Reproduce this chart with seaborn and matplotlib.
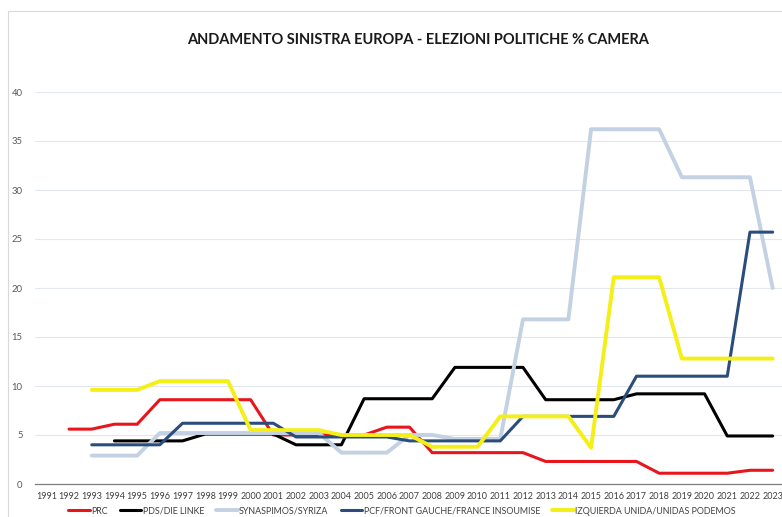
import numpy as np
import pandas as pd
import matplotlib
matplotlib.use("Agg")
import matplotlib.pyplot as plt
import seaborn as sns
from matplotlib.patches import Rectangle

nan = np.nan
anni = list(range(1991, 2024))

# percentuali (NaN = serie non ancora iniziata)
prc = [nan, 5.6, 5.6, 6.1, 6.1, 8.6, 8.6, 8.6, 8.6, 8.6, 5.0, 5.0, 5.0, 5.0, 5.0, 5.8, 5.8,
       3.2, 3.2, 3.2, 3.2, 3.2, 2.3, 2.3, 2.3, 2.3, 2.3, 1.1, 1.1, 1.1, 1.1, 1.4, 1.4]
pds_linke = [nan, nan, nan, 4.4, 4.4, 4.4, 4.4, 5.1, 5.1, 5.1, 5.1, 4.0, 4.0, 4.0, 8.7, 8.7, 8.7,
             8.7, 11.9, 11.9, 11.9, 11.9, 8.6, 8.6, 8.6, 8.6, 9.2, 9.2, 9.2, 9.2, 4.9, 4.9, 4.9]
syriza = [nan, nan, 2.9, 2.9, 2.9, 5.2, 5.2, 5.2, 5.2, 5.2, 5.2, 5.2, 5.2, 3.2, 3.2, 3.2, 5.0,
          5.0, 4.6, 4.6, 4.6, 16.8, 16.8, 16.8, 36.2, 36.2, 36.2, 36.2, 31.3, 31.3, 31.3, 31.3, 20.0]
pcf_fi = [nan, nan, 4.0, 4.0, 4.0, 4.0, 6.2, 6.2, 6.2, 6.2, 6.2, 4.8, 4.8, 4.8, 4.8, 4.8, 4.4,
          4.4, 4.4, 4.4, 4.4, 6.9, 6.9, 6.9, 6.9, 6.9, 11.0, 11.0, 11.0, 11.0, 11.0, 25.7, 25.7]
iu_podemos = [nan, nan, 9.6, 9.6, 9.6, 10.5, 10.5, 10.5, 10.5, 5.5, 5.5, 5.5, 5.5, 5.0, 5.0, 5.0, 5.0,
              3.8, 3.8, 3.8, 6.9, 6.9, 6.9, 6.9, 3.7, 21.1, 21.1, 21.1, 12.8, 12.8, 12.8, 12.8, 12.8]

serie = [
    ("PRC", prc, "#e8161c", 2.2),
    ("PDS/DIE LINKE", pds_linke, "#000000", 2.2),
    ("SYNASPIMOS/SYRIZA", syriza, "#c3d1e2", 2.8),
    ("PCF/FRONT GAUCHE/FRANCE INSOUMISE", pcf_fi, "#2a4d7c", 2.2),
    ("IZQUIERDA UNIDA/UNIDAS PODEMOS", iu_podemos, "#f4ef17", 2.8),
]

sns.set_style("white")
plt.rcParams["font.family"] = ["Lato", "DejaVu Sans"]

fig = plt.figure(figsize=(7.82, 5.17), dpi=100)
ax = fig.add_axes([35 / 782, 33 / 517, 749 / 782, 392 / 517])

for nome, valori, colore, lw in serie:
    df = pd.DataFrame({"anno": anni, "val": valori}).dropna()
    sns.lineplot(data=df, x="anno", y="val", color=colore, linewidth=lw,
                 label=nome, ax=ax, legend=False)

ax.set_xlim(1990.5, 2023.5)
ax.set_ylim(0, 40)
ax.set_yticks(range(0, 41, 5))
ax.set_xticks(anni)
ax.set_xticks(np.arange(1990.5, 2024, 1), minor=True)
ax.set_xlabel("")
ax.set_ylabel("")
ax.grid(axis="y", color="#e1e7ed", linewidth=0.8)
ax.grid(axis="x", visible=False)
for s in ["top", "right", "left"]:
    ax.spines[s].set_visible(False)
ax.spines["bottom"].set_color("#7f7f7f")
ax.spines["bottom"].set_linewidth(0.9)
ax.tick_params(axis="x", which="major", length=0, labelsize=6.5, colors="#404040", pad=6)
ax.tick_params(axis="x", which="minor", length=3, width=0.8, color="#7f7f7f", direction="out")
ax.tick_params(axis="y", length=0, labelsize=6.8, colors="#595959", pad=9)
ax.set_zorder(1)

fig.text(0.534, 0.922, "ANDAMENTO SINISTRA EUROPA - ELEZIONI POLITICHE % CAMERA",
         ha="center", va="center", fontsize=10.5, fontweight="bold", color="#1a1a1a")

handles, labels = ax.get_legend_handles_labels()
leg = fig.legend(handles, labels, loc="center", bbox_to_anchor=(402 / 782, 6 / 517),
                 ncol=5, frameon=False, fontsize=6.4, handlelength=2.4, handletextpad=0.15,
                 columnspacing=1.4, labelcolor="#404040")

# cornice del grafico
fig.patches.append(Rectangle((8 / 782, -0.1), 1.2, (517 - 11) / 517 + 0.1,
                             transform=fig.transFigure, fill=False,
                             edgecolor="#d9d9d9", linewidth=0.8))

fig.savefig("out.png", dpi=100)
